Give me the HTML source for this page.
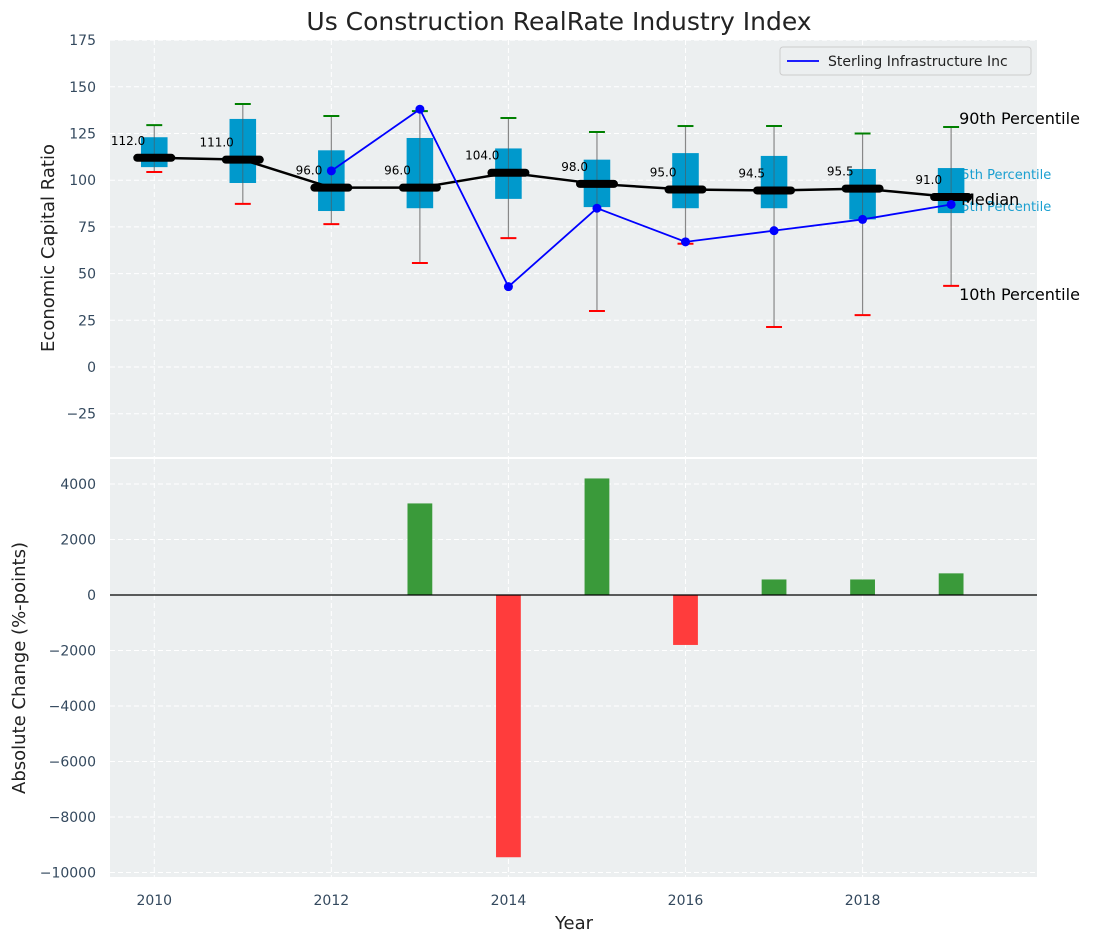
<!DOCTYPE html>
<html><head><meta charset="utf-8"><style>
body{margin:0;background:#fff;font-family:"Liberation Sans","DejaVu Sans",sans-serif}
</style></head><body>
<svg id="chart" width="1095" height="942" xmlns="http://www.w3.org/2000/svg" font-family="DejaVu Sans, Liberation Sans, sans-serif"></svg>
<script>
const years=[2010,2011,2012,2013,2014,2015,2016,2017,2018,2019];
const p90=[129.5,140.8,134.4,137,133.3,125.8,129,129,125,128.5];
const q75=[123,132.8,116,122.6,117,111,114.5,113,106,106.5];
const medians=[112,111,96,96,104,98,95,94.5,95.5,91];
const q25=[107,98.5,83.5,85,90,85.6,85,85,79,82.4];
const p10=[104.4,87.3,76.5,55.7,69,30,66,21.4,27.8,43.4];
const sterlingYears=[2012,2013,2014,2015,2016,2017,2018,2019];
const sterling=[105,138,43,85,67,73,79,87];
const changeYears=[2013,2014,2015,2016,2017,2018,2019];
const changes=[3300,-9450,4200,-1800,560,560,780];
const topTicks=[-25,0,25,50,75,100,125,150,175];
const botTicks=[-10000,-8000,-6000,-4000,-2000,0,2000,4000];
const xTicks=[2010,2012,2014,2016,2018];

const NS="http://www.w3.org/2000/svg";
const svg=document.getElementById('chart');
function el(tag,attrs,text,parent){const e=document.createElementNS(NS,tag);for(const k in attrs)e.setAttribute(k,attrs[k]);if(text!=null)e.textContent=text;(parent||svg).appendChild(e);return e;}
const L=110,R=1037;
const X=y=>L+(y-2009.5)*(R-L)/(2019.97-2009.5);
const Y1=v=>367-v*46.7/25;
const Y2=v=>595-v*0.02775;
const T1=40,B1=457,T2=459,B2=877;

let e;
e=el('rect',{x:L,y:T1,width:R-L,height:B1-T1,fill:'#eceff0'});

e=el('rect',{x:L,y:T2,width:R-L,height:B2-T2,fill:'#eceff0'});


topTicks.forEach(t=>{const y=Y1(t);
 e=el('line',{x1:L,x2:R,y1:y,y2:y,stroke:'#fff','stroke-dasharray':'5,3','stroke-width':1});
 
 e=el('text',{x:96,y:y+5,'text-anchor':'end','font-size':14,fill:'#34495e'},t<0?'\u2212'+(-t):t);
 });
botTicks.forEach(t=>{const y=Y2(t);
 e=el('line',{x1:L,x2:R,y1:y,y2:y,stroke:'#fff','stroke-dasharray':'5,3','stroke-width':1});
 
 e=el('text',{x:96,y:y+5,'text-anchor':'end','font-size':14,fill:'#34495e'},t<0?'\u2212'+(-t):t);
 });
xTicks.forEach(t=>{const x=X(t);
 e=el('line',{x1:x,x2:x,y1:T1,y2:B1,stroke:'#fff','stroke-dasharray':'5,3'});
 
 e=el('line',{x1:x,x2:x,y1:T2,y2:B2,stroke:'#fff','stroke-dasharray':'5,3'});
 
 e=el('text',{x:x,y:905,'text-anchor':'middle','font-size':14,fill:'#34495e'},t);
 });

const li=years.length-1, lx=X(years[li])+8;
[[Y1(p90[li])-3,'90th Percentile','#000',16,lx],[Y1(p10[li])+14,'10th Percentile','#000',16,lx],[Y1(q75[li])+11,'75th Percentile','#1a9fd0',13,lx-6],[Y1(q25[li])-2,'25th Percentile','#1a9fd0',13,lx-6]].forEach(a=>{
 e=el('text',{x:a[4],y:a[0],'font-size':a[3],fill:a[2]},a[1]);
 });

const hw=(R-L)/10.47*0.15, cw=(R-L)/10.47*0.09;
years.forEach((yr,i)=>{const x=X(yr);
 e=el('line',{x1:x,x2:x,y1:Y1(p90[i]),y2:Y1(p10[i]),stroke:'#888','stroke-width':1.2});
 
 e=el('rect',{x:x-hw,y:Y1(q75[i]),width:2*hw,height:Y1(q25[i])-Y1(q75[i]),fill:'#0099cc'});
 
 e=el('line',{x1:x,x2:x,y1:Y1(q75[i]),y2:Y1(q25[i]),stroke:'#555','stroke-width':1,'stroke-opacity':0.6});
 
 e=el('line',{x1:x-cw,x2:x+cw,y1:Y1(p90[i]),y2:Y1(p90[i]),stroke:'green','stroke-width':2});
 
 e=el('line',{x1:x-cw,x2:x+cw,y1:Y1(p10[i]),y2:Y1(p10[i]),stroke:'red','stroke-width':2});
 
});
e=el('polyline',{points:years.map((y,i)=>X(y)+','+Y1(medians[i])).join(' '),fill:'none',stroke:'#000','stroke-width':2.5});

years.forEach((yr,i)=>{const x=X(yr),y=Y1(medians[i]);
 e=el('line',{x1:x-17,x2:x+17,y1:y,y2:y,stroke:'#000','stroke-width':8,'stroke-linecap':'round'});
 
 e=el('text',{x:x-9,y:y-13,'text-anchor':'end','font-size':12,fill:'#000'},medians[i].toFixed(1));
 });
e=el('text',{x:lx+2,y:Y1(medians[li])+8,'font-size':16,fill:'#000'},'Median');


e=el('polyline',{points:sterlingYears.map((y,i)=>X(y)+','+Y1(sterling[i])).join(' '),fill:'none',stroke:'blue','stroke-width':1.8});

sterlingYears.forEach((yr,i)=>{e=el('circle',{cx:X(yr),cy:Y1(sterling[i]),r:4.5,fill:'blue'});
 });

e=el('rect',{x:780,y:47,width:251,height:28,rx:3,fill:'#eceff0',stroke:'#ccc'});

e=el('line',{x1:787,x2:819,y1:61,y2:61,stroke:'blue','stroke-width':1.8});

e=el('text',{x:828,y:66,'font-size':14,fill:'#222'},'Sterling Infrastructure Inc');


const bw=(R-L)/10.47*0.28;
changeYears.forEach((yr,i)=>{const v=changes[i];const y0=Y2(0),y1=Y2(v);
 e=el('rect',{x:X(yr)-bw/2,y:Math.min(y0,y1),width:bw,height:Math.abs(y1-y0),fill:v>=0?'#3a9a3a':'#ff3c3c'});
 });
e=el('line',{x1:L,x2:R,y1:Y2(0),y2:Y2(0),stroke:'#000','stroke-width':1.2});


e=el('text',{x:559,y:30,'text-anchor':'middle','font-size':25,fill:'#222'},'Us Construction RealRate Industry Index');

e=el('text',{x:0,y:0,transform:'translate(54,248) rotate(-90)','text-anchor':'middle','font-size':18,fill:'#222'},'Economic Capital Ratio');

e=el('text',{x:0,y:0,transform:'translate(25,668) rotate(-90)','text-anchor':'middle','font-size':18,fill:'#222'},'Absolute Change (%-points)');

e=el('text',{x:574,y:929,'text-anchor':'middle','font-size':18,fill:'#222'},'Year');

</script>
</body></html>
